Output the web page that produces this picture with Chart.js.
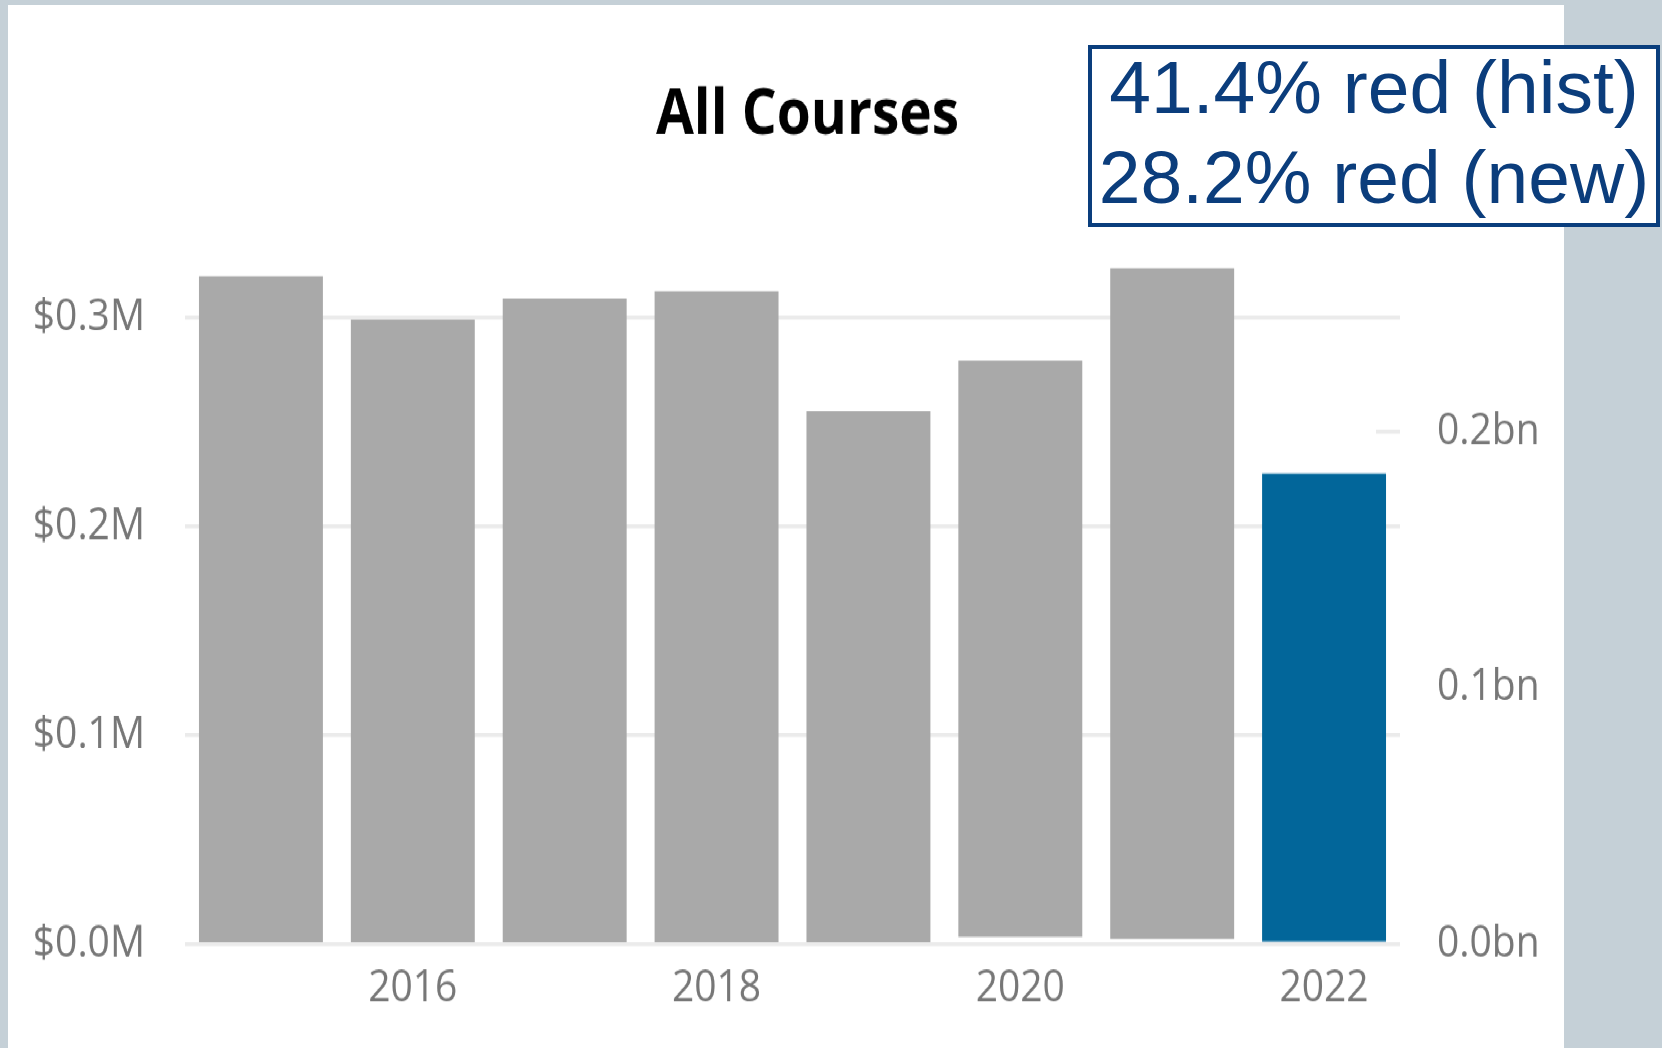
<!DOCTYPE html>
<html>
<head>
<meta charset="utf-8">
<script src="https://cdn.jsdelivr.net/npm/chart.js@4.4.1/dist/chart.umd.min.js"></script>
<style>
  html, body { margin: 0; padding: 0; }
  body { width: 1662px; height: 1048px; background: #c5d0d7; position: relative; overflow: hidden; }
  /* the source picture is slightly taller than wide, so the panel is stretched vertically */
  #panel {
    position: absolute; left: 8px; top: 5px;
    width: 1556px; height: 914.9px;
    background: #fff;
    transform: scaleY(1.14); transform-origin: 0 0;
  }
  #note {
    position: absolute; left: 1088px; top: 45px;
    width: 572px; height: 182px; box-sizing: border-box;
    border: 4.5px solid #0a3e7d; background: #fff;
    font-family: 'Liberation Sans', Arial, sans-serif; font-size: 75px; line-height: 90px;
    color: #0b3d7c; text-align: center; white-space: nowrap;
  }
  #note div { position: relative; top: -7px; }
</style>
</head>
<body>
<div id="panel"><canvas id="chart"></canvas></div>
<div id="note"><div>41.4% red (hist)</div><div>28.2% red (new)</div></div>
<script>
// data
const years = ['2015', '2016', '2017', '2018', '2019', '2020', '2021', '2022'];
const histLow = [0, 0, 0, 0, 0.001, 0.0035, 0.0025, null];          // $M
const histHigh = [0.3196, 0.2990, 0.3091, 0.3125, 0.2550, 0.2794, 0.3235, null];
const newLow = [null, null, null, null, null, null, null, 0.001];    // bn
const newHigh = [null, null, null, null, null, null, null, 0.1836];
const leftTicks = [0, 0.1, 0.2, 0.3];
const rightTicks = [0, 0.1, 0.2];

const pair = (lo, hi) => lo.map((v, i) => v === null ? null : [v, hi[i]]);
const tickFont = { family: "'Open Sans', 'Noto Sans', sans-serif", size: 39, weight: 'normal' };
const tickColor = '#777777';
const gridColor = '#ebebeb';

const ctx = document.getElementById('chart').getContext('2d');
const chart = new Chart(ctx, {
    type: 'bar',
    data: {
        labels: years,
        datasets: [{
            label: 'hist',
            data: pair(histLow, histHigh),
            backgroundColor: '#a9a9a9',
            yAxisID: 'y',
            grouped: false,
            barPercentage: 0.816,
            categoryPercentage: 1
        }, {
            label: 'new',
            data: pair(newLow, newHigh),
            backgroundColor: '#02669a',
            yAxisID: 'y1',
            grouped: false,
            barPercentage: 0.816,
            categoryPercentage: 1
        }]
    },
    options: {
        responsive: true,
        maintainAspectRatio: false,
        animation: false,
        // negative right padding moves the title centre to the right, like the original
        layout: { padding: { left: 0, right: -43, top: 0, bottom: 0 } },
        plugins: {
            legend: { display: false },
            tooltip: { enabled: false },
            title: {
                display: true,
                text: 'All Courses',
                color: '#000',
                font: { family: "'Open Sans', 'Noto Sans', sans-serif", size: 55, weight: 'bold' },
                padding: { top: 64.7, bottom: 51.5 }
            }
        },
        scales: {
            x: {
                grid: { display: false },
                border: { display: false },
                ticks: {
                    autoSkip: false,
                    maxRotation: 0,
                    padding: 7.3,
                    color: tickColor,
                    font: tickFont,
                    callback: (v, i) => i % 2 ? years[i] : ''
                },
                afterFit: s => { s.height = 92.1; }
            },
            y: {
                position: 'left',
                min: 0,
                max: 0.35,
                afterBuildTicks: s => { s.ticks = leftTicks.map(v => ({ value: v })); },
                grid: { color: gridColor, lineWidth: 3.5, drawTicks: false },
                border: { display: false },
                ticks: {
                    padding: 40,
                    color: tickColor,
                    font: tickFont,
                    callback: v => '$' + v.toFixed(1) + 'M'
                },
                afterFit: s => { s.width = 177; }
            },
            y1: {
                position: 'right',
                min: 0,
                max: 0.2853,
                afterBuildTicks: s => { s.ticks = rightTicks.map(v => ({ value: v })); },
                grid: {
                    drawOnChartArea: false,
                    drawTicks: true,
                    tickLength: -24,
                    lineWidth: 3.5,
                    color: c => (c.tick && Math.abs(c.tick.value - 0.2) < 1e-9) ? gridColor : 'rgba(0,0,0,0)'
                },
                border: { display: false },
                ticks: {
                    padding: 61,
                    color: tickColor,
                    font: tickFont,
                    callback: v => v.toFixed(1) + 'bn'
                },
                afterFit: s => { s.width = 207; }
            }
        }
    }
});
</script>
</body>
</html>
